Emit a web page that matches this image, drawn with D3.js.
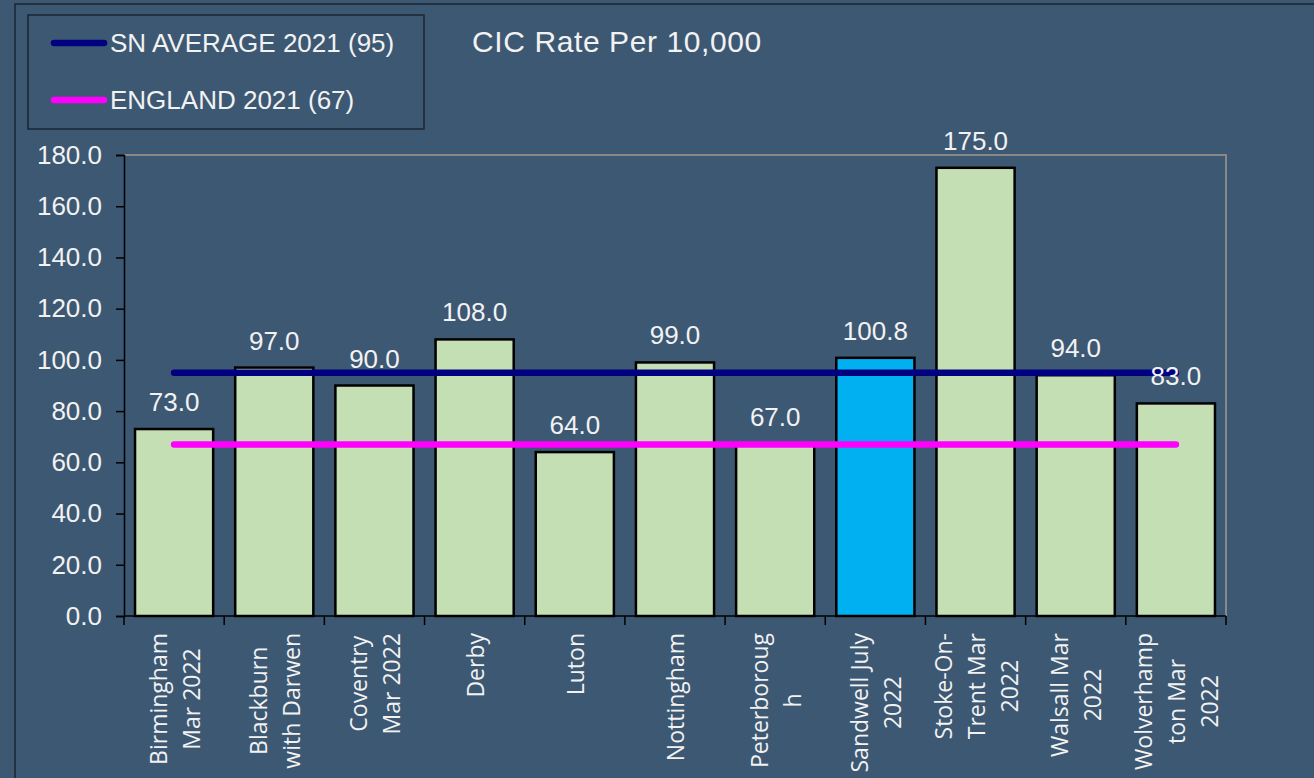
<!DOCTYPE html>
<html>
<head>
<meta charset="utf-8">
<script src="https://cdn.jsdelivr.net/npm/d3@7"></script>
<style>
  body { margin: 0; background: #3d5872; overflow: hidden; }
  svg { display: block; }
</style>
</head>
<body>
<div id="chart"></div>
<script>
// Chart data
const categories = ["Birmingham Mar 2022", "Blackburn with Darwen", "Coventry Mar 2022", "Derby", "Luton",
  "Nottingham", "Peterborough", "Sandwell July 2022", "Stoke-On-Trent Mar 2022", "Walsall Mar 2022",
  "Wolverhampton Mar 2022"];
const labelLines = [["Birmingham", "Mar 2022"], ["Blackburn", "with Darwen"], ["Coventry", "Mar 2022"],
  ["Derby"], ["Luton"], ["Nottingham"], ["Peterboroug", "h"], ["Sandwell July", "2022"],
  ["Stoke-On-", "Trent Mar", "2022"], ["Walsall Mar", "2022"], ["Wolverhamp", "ton Mar", "2022"]];
const rates = [73.0, 97.0, 90.0, 108.0, 64.0, 99.0, 67.0, 100.8, 175.0, 94.0, 83.0];
const highlight = "Sandwell July 2022";
const refLines = [
  {name: "SN AVERAGE 2021 (95)", value: 95, color: "#000080"},
  {name: "ENGLAND 2021 (67)", value: 67, color: "#ff00ff"}
];
const yTicks = [0, 20, 40, 60, 80, 100, 120, 140, 160, 180];

const W = 1314, H = 778;
const plot = {left: 124, right: 1226, top: 155, bottom: 616};
const textColor = "#f2f2f2";

const svg = d3.select("#chart").append("svg")
    .attr("width", W)
    .attr("height", H);

// outer chart border
svg.append("rect")
    .attr("x", 15).attr("y", 4)
    .attr("width", 1400).attr("height", 900)
    .attr("fill", "none")
    .attr("stroke", "#1c2530")
    .attr("stroke-width", 1.5);

// scales
const x = d3.scaleBand()
    .domain(categories)
    .range([plot.left, plot.right])
    .paddingInner(0.22)
    .paddingOuter(0.11);
const xStep = d3.scaleBand()
    .domain(categories)
    .range([plot.left, plot.right]);
const y = d3.scaleLinear()
    .domain([0, 180])
    .range([plot.bottom, plot.top]);

// plot area border (gray top/right)
svg.append("path")
    .attr("d", `M${plot.left},${plot.top}H${plot.right}V${plot.bottom}`)
    .attr("fill", "none")
    .attr("stroke", "#888888")
    .attr("stroke-width", 2);

// bars
const data = categories.map((c, i) => ({cat: c, value: rates[i], lines: labelLines[i]}));
svg.selectAll(".bar")
    .data(data)
  .enter().append("rect")
    .attr("class", "bar")
    .attr("x", d => x(d.cat))
    .attr("y", d => y(d.value))
    .attr("width", x.bandwidth())
    .attr("height", d => y(0) - y(d.value))
    .attr("fill", d => d.cat === highlight ? "#00b0f0" : "#c4dfb3")
    .attr("stroke", "#000")
    .attr("stroke-width", 2.5);

// Y axis
const yAxis = svg.append("g")
    .attr("transform", `translate(${plot.left},0)`)
    .call(d3.axisLeft(y).tickValues(yTicks).tickFormat(d3.format(".1f")).tickSize(8).tickPadding(14));
yAxis.select(".domain").attr("stroke", "#000").attr("stroke-width", 1.5);
yAxis.selectAll(".tick line").attr("stroke", "#000").attr("stroke-width", 1.5);
yAxis.selectAll(".tick text")
    .attr("fill", textColor)
    .style("font-family", "'Liberation Sans', Arial, sans-serif")
    .style("font-size", "26px");

// X axis line + boundary ticks
svg.append("line")
    .attr("x1", plot.left).attr("x2", plot.right)
    .attr("y1", plot.bottom).attr("y2", plot.bottom)
    .attr("stroke", "#000").attr("stroke-width", 1.5);
const bounds = categories.map(c => xStep(c)).concat([plot.right]);
svg.selectAll(".xtick")
    .data(bounds)
  .enter().append("line")
    .attr("class", "xtick")
    .attr("x1", d => d).attr("x2", d => d)
    .attr("y1", plot.bottom).attr("y2", plot.bottom + 9)
    .attr("stroke", "#000").attr("stroke-width", 1.5);

// X labels, rotated, aligned at the top
const labelTop = 633;
const lineGap = 33;
const xl = svg.selectAll(".xlabel")
    .data(data)
  .enter().append("g")
    .attr("class", "xlabel")
    .attr("transform", d => `translate(${xStep(d.cat) + xStep.bandwidth() / 2},${labelTop})`);
xl.each(function(d) {
    const g = d3.select(this);
    const n = d.lines.length;
    const texts = d.lines.map(t => g.append("text")
        .text(t)
        .attr("fill", textColor)
        .attr("text-anchor", "middle")
        .attr("dominant-baseline", "central")
        .style("font-family", "'Open Sans', 'Noto Sans', sans-serif")
        .style("font-size", "23px"));
    const maxLen = d3.max(texts, t => t.node().getComputedTextLength());
    texts.forEach((t, i) => {
        const dx = (i - (n - 1) / 2) * lineGap;
        t.attr("transform", `translate(${dx},${maxLen / 2}) rotate(-90)`);
    });
});

// reference lines
const first = categories[0], last = categories[categories.length - 1];
svg.selectAll(".ref")
    .data(refLines)
  .enter().append("line")
    .attr("class", "ref")
    .attr("x1", x(first) + x.bandwidth() / 2)
    .attr("x2", x(last) + x.bandwidth() / 2)
    .attr("y1", d => y(d.value))
    .attr("y2", d => y(d.value))
    .attr("stroke", d => d.color)
    .attr("stroke-width", 6.5)
    .attr("stroke-linecap", "round");

// value labels
svg.selectAll(".vlabel")
    .data(data)
  .enter().append("text")
    .attr("class", "vlabel")
    .attr("x", d => x(d.cat) + x.bandwidth() / 2)
    .attr("y", d => y(d.value) - 18)
    .attr("text-anchor", "middle")
    .attr("fill", textColor)
    .style("font-family", "'Liberation Sans', Arial, sans-serif")
    .style("font-size", "26px")
    .text(d => d3.format(".1f")(d.value));

// legend
const legend = svg.append("g");
legend.append("rect")
    .attr("x", 28).attr("y", 15)
    .attr("width", 396).attr("height", 114)
    .attr("fill", "none")
    .attr("stroke", "#1c2530")
    .attr("stroke-width", 1.5);
const li = legend.selectAll(".li")
    .data(refLines)
  .enter().append("g")
    .attr("class", "li")
    .attr("transform", (d, i) => `translate(0,${43 + i * 57})`);
li.append("line")
    .attr("x1", 54).attr("x2", 104)
    .attr("stroke", d => d.color)
    .attr("stroke-width", 6.5)
    .attr("stroke-linecap", "round");
li.append("text")
    .attr("x", 110)
    .attr("y", 9)
    .attr("fill", textColor)
    .style("font-family", "'Liberation Sans', Arial, sans-serif")
    .style("font-size", "26px")
    .text(d => d.name);

// title
svg.append("text")
    .attr("x", 472)
    .attr("y", 52)
    .attr("fill", textColor)
    .style("font-family", "'Liberation Sans', Arial, sans-serif")
    .style("font-size", "30px")
    .style("letter-spacing", "0.6px")
    .text("CIC Rate Per 10,000");
</script>
</body>
</html>
